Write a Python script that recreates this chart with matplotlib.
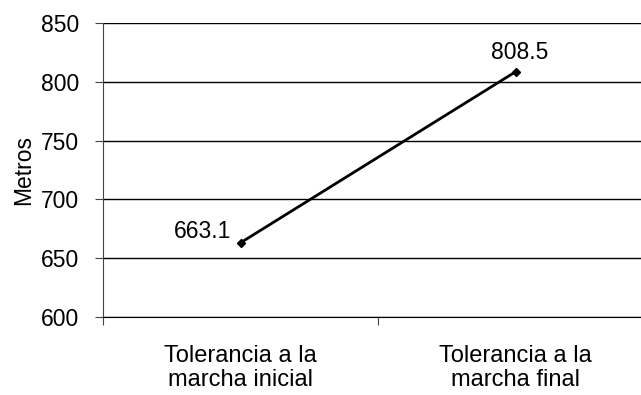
import matplotlib.pyplot as plt

plt.rcParams['font.family'] = ['Liberation Sans', 'DejaVu Sans']

# Walking distance at the start and end of the programme
categories = ['Tolerancia a la\nmarcha inicial', 'Tolerancia a la\nmarcha final']
metros = [663.1, 808.5]
y_ticks = [600, 650, 700, 750, 800, 850]

fig = plt.figure(figsize=(6.41, 3.95), dpi=100)
ax = fig.add_axes([103 / 641, 1 - 317 / 395, 550 / 641, 294 / 395])

x = list(range(len(categories)))
ax.plot(x, metros, color='black', lw=2, marker='D', markersize=4, zorder=3)

# value labels
ax.annotate(f'{metros[0]}', (x[0], metros[0]), xytext=(-7, 8),
            textcoords='offset points', ha='right', va='center', fontsize=16.5)
ax.annotate(f'{metros[1]}', (x[1], metros[1]), xytext=(3, 14),
            textcoords='offset points', ha='center', va='center', fontsize=16.5)

ax.set_xlim(-0.5, len(categories) - 0.5)
ax.set_ylim(y_ticks[0], y_ticks[-1])
ax.set_yticks(y_ticks)
ax.yaxis.grid(True, color='black', lw=1)
ax.set_axisbelow(True)

# category boundaries get tick marks, labels sit between them
ax.set_xticks([i - 0.5 for i in range(len(categories) + 1)])
ax.set_xticklabels([])
ax.set_xticks(x, minor=True)
ax.set_xticklabels(categories, minor=True, fontsize=17, linespacing=1.12)
ax.tick_params(axis='x', which='major', length=6, color='#444444')
ax.tick_params(axis='x', which='minor', length=0, pad=20)
ax.tick_params(axis='y', length=6, pad=11, labelsize=16.5, color='#444444')

ax.set_ylabel('Metros', fontsize=16.5, labelpad=4)

for side in ['top', 'right']:
    ax.spines[side].set_visible(False)
ax.spines['left'].set_color('#444444')
ax.spines['bottom'].set_color('black')

fig.savefig('out.png', dpi=100)
